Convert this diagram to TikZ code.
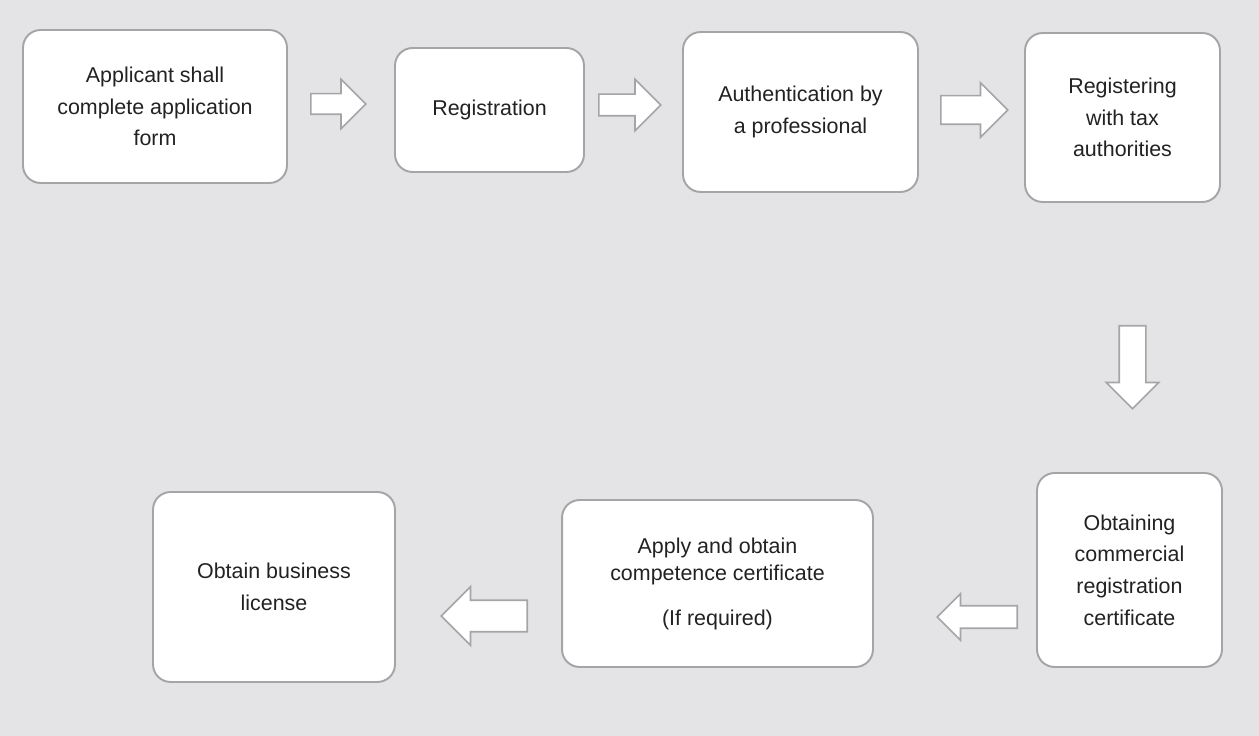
\documentclass[tikz,border=0pt]{standalone}
\usepackage{fontspec}
\setmainfont{Liberation Sans}
\usetikzlibrary{shapes.arrows}

\definecolor{bgc}{RGB}{228,228,230}
\definecolor{edge}{RGB}{165,165,168}
\definecolor{ink}{RGB}{34,34,34}

\tikzset{
	stepbox/.style={draw=edge, line width=1.1pt, fill=white, rounded corners=10pt, align=center,
		text=ink, font=\fontsize{12.2}{18}\selectfont, inner sep=0pt},
	blockarrow/.style={single arrow, draw=edge, line width=0.9pt, fill=white, anchor=tail}
}

\begin{document}
\begin{tikzpicture}[x=0.02cm,y=-0.02cm]

		\fill[bgc] (0,0) rectangle (1259,736);

		\node[stepbox, minimum width=5.28cm, minimum height=3.06cm] (form) at (155,106.5) {Applicant shall\\complete application\\form};
		\node[stepbox, minimum width=3.78cm, minimum height=2.48cm] (registration) at (489.5,110) {Registration};
		\node[stepbox, minimum width=4.70cm, minimum height=3.20cm] (authentication) at (800.5,112) {Authentication by\\a professional};
		\node[stepbox, minimum width=3.90cm, minimum height=3.38cm] (tax) at (1122.5,117.5) {Registering\\with tax\\authorities};

		\node[stepbox, minimum width=3.70cm, minimum height=3.88cm] (commercial) at (1129.5,570) {Obtaining\\commercial\\registration\\certificate};
		\node[stepbox, minimum width=6.22cm, minimum height=3.34cm, font=\fontsize{12.2}{15.5}\selectfont] (competence) at (717.5,583.5) {Apply and obtain\\competence certificate\\[10pt](If required)};
		\node[stepbox, minimum width=4.84cm, minimum height=3.80cm] (license) at (274,587) {Obtain business\\license};

		\foreach \n/\x/\y/\len/\head/\shaft/\rot in {1/310/104/1.10/0.96/0.38/0, 2/598/105/1.24/1.00/0.40/0,
			3/940/110/1.34/1.06/0.54/0, 4/1132.5/325/1.66/1.02/0.50/270,
			5/1018/617/1.60/0.90/0.42/180, 6/528/616/1.72/1.14/0.60/180}
			\node[blockarrow, minimum height=\len cm, minimum width=\head cm, inner sep=\shaft cm/2,
				single arrow head extend={(\head cm-\shaft cm)/2}, shape border rotate=\rot] (arrow\n) at (\x,\y) {};

\end{tikzpicture}
\end{document}
